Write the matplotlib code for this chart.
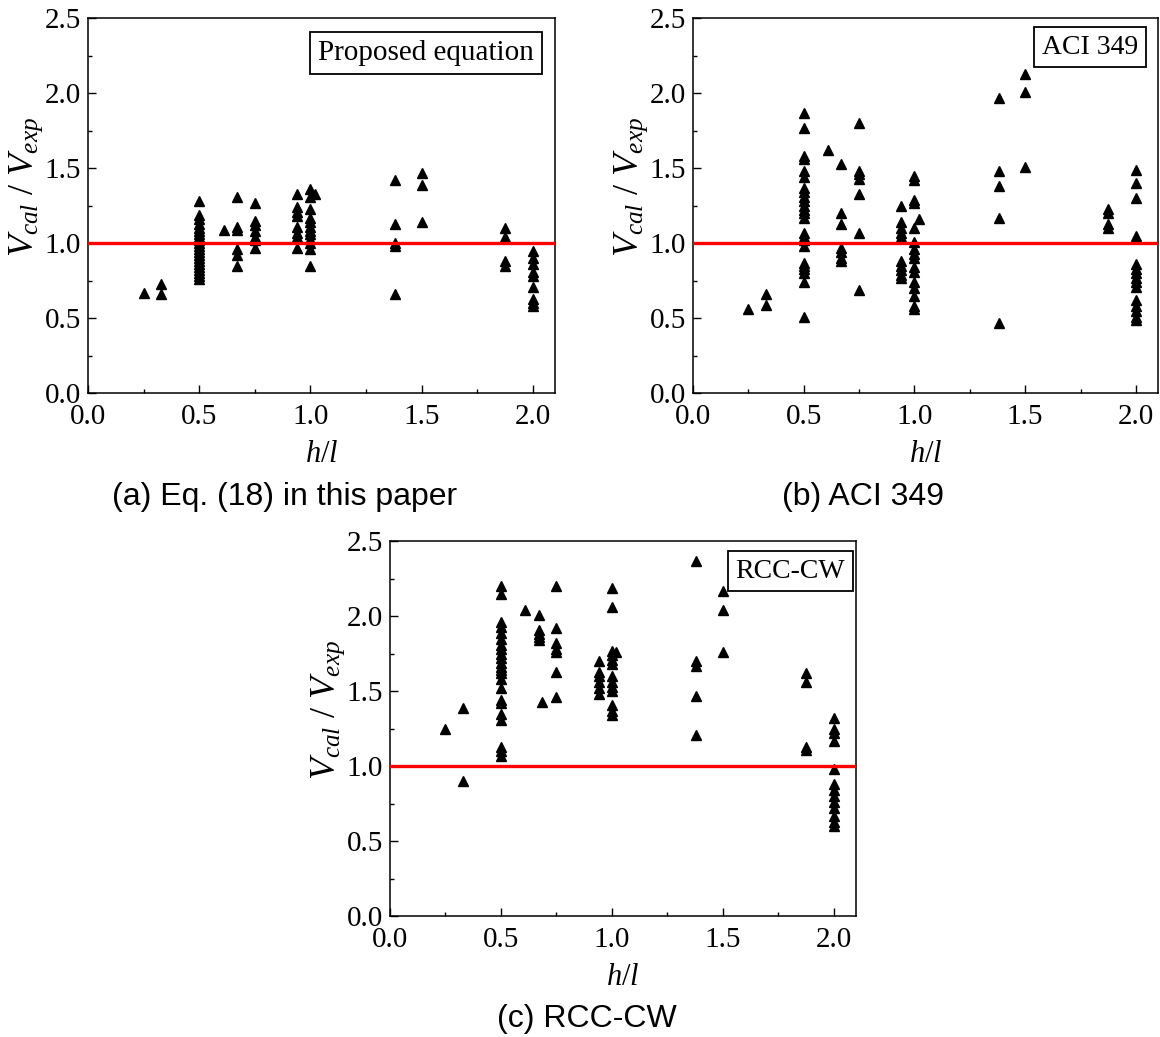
import matplotlib
matplotlib.use("Agg")
import matplotlib.pyplot as plt
from matplotlib.ticker import MultipleLocator

plt.rcParams['font.family'] = ['Liberation Serif', 'DejaVu Serif']
plt.rcParams['mathtext.fontset'] = 'custom'
plt.rcParams['mathtext.rm'] = 'Liberation Serif'
plt.rcParams['mathtext.it'] = 'Liberation Serif:italic'

# h/l -> V_cal / V_exp, grouped by h/l value
eq18 = {
    0.25: [0.67],
    0.33: [0.73, 0.66],
    0.5: [1.28, 1.19, 1.16, 1.13, 1.10, 1.08, 1.06, 1.04, 1.02, 1.00, 0.98, 0.96,
          0.94, 0.92, 0.90, 0.88, 0.86, 0.84, 0.82, 0.80, 0.78, 0.76],
    0.61: [1.09],
    0.67: [1.31, 1.11, 1.09, 0.96, 0.92, 0.85],
    0.75: [1.27, 1.15, 1.12, 1.08, 1.04, 1.02, 0.97],
    0.94: [1.33, 1.24, 1.21, 1.18, 1.11, 1.07, 1.04, 0.97],
    1.0: [1.36, 1.31, 1.23, 1.17, 1.14, 1.11, 1.08, 1.06, 1.03, 1.00, 0.96, 0.85],
    1.02: [1.33],
    1.38: [1.42, 1.13, 1.00, 0.98, 0.66],
    1.5: [1.47, 1.39, 1.14],
    1.875: [1.10, 1.04, 0.88, 0.85],
    2.0: [0.95, 0.90, 0.86, 0.81, 0.78, 0.71, 0.63, 0.60, 0.58],
}

aci349 = {
    0.25: [0.56],
    0.33: [0.66, 0.59],
    0.5: [1.87, 1.77, 1.58, 1.56, 1.48, 1.44, 1.37, 1.34, 1.31, 1.28, 1.25, 1.22,
          1.20, 1.17, 1.07, 1.04, 1.02, 0.98, 0.87, 0.85, 0.83, 0.80, 0.74, 0.51],
    0.61: [1.62],
    0.67: [1.53, 1.20, 1.13, 0.97, 0.94, 0.90, 0.88],
    0.75: [1.80, 1.48, 1.46, 1.43, 1.33, 1.07, 0.69],
    0.94: [1.25, 1.14, 1.10, 1.07, 1.04, 0.88, 0.85, 0.82, 0.79, 0.77],
    1.0: [1.45, 1.42, 1.29, 1.27, 1.10, 1.01, 0.96, 0.93, 0.90, 0.84, 0.81, 0.74,
          0.70, 0.65, 0.58, 0.56],
    1.02: [1.16],
    1.38: [1.97, 1.48, 1.38, 1.17, 0.47],
    1.5: [2.13, 2.01, 1.51],
    1.875: [1.23, 1.20, 1.13, 1.10],
    2.0: [1.49, 1.40, 1.30, 1.05, 0.86, 0.83, 0.80, 0.77, 0.74, 0.71, 0.62, 0.58,
          0.55, 0.51, 0.49],
}

rccw = {
    0.25: [1.25],
    0.33: [1.39, 0.90],
    0.5: [2.20, 2.15, 1.96, 1.93, 1.89, 1.85, 1.81, 1.78, 1.75, 1.72, 1.69, 1.66,
          1.64, 1.62, 1.58, 1.52, 1.44, 1.42, 1.35, 1.31, 1.13, 1.10, 1.07],
    0.61: [2.04],
    0.67: [2.01, 1.91, 1.88, 1.86, 1.84],
    0.685: [1.43],
    0.75: [2.20, 1.92, 1.82, 1.78, 1.76, 1.63, 1.46],
    0.94: [1.70, 1.63, 1.60, 1.56, 1.52, 1.48],
    1.0: [2.19, 2.06, 1.77, 1.74, 1.71, 1.68, 1.60, 1.56, 1.53, 1.50, 1.41, 1.37, 1.34],
    1.02: [1.76],
    1.38: [2.37, 1.70, 1.67, 1.47, 1.21],
    1.5: [2.17, 2.04, 1.76],
    1.875: [1.62, 1.56, 1.13, 1.11],
    2.0: [1.32, 1.25, 1.22, 1.17, 0.98, 0.88, 0.84, 0.80, 0.76, 0.72, 0.67, 0.63, 0.60],
}

W, H = 1160, 1037
fig = plt.figure(figsize=(W / 100, H / 100), dpi=100)


def px_axes(left, top, right, bottom):
    return fig.add_axes([left / W, 1 - bottom / H, (right - left) / W, (bottom - top) / H])


def draw(ax, groups, label, box_right, box_top, box_fs):
    for x, ys in groups.items():
        ax.plot([x] * len(ys), ys, linestyle='none', marker='^', ms=7,
                color='black', zorder=3)
    ax.axhline(1.0, color='#ff0000', lw=2.4, zorder=4)
    ax.set_xlim(0, 2.1)
    ax.set_ylim(0, 2.5)
    ax.xaxis.set_major_locator(MultipleLocator(0.5))
    ax.xaxis.set_minor_locator(MultipleLocator(0.25))
    ax.yaxis.set_major_locator(MultipleLocator(0.5))
    ax.yaxis.set_minor_locator(MultipleLocator(0.25))
    ax.xaxis.set_major_formatter(lambda v, p: f'{v:.1f}')
    ax.yaxis.set_major_formatter(lambda v, p: f'{v:.1f}')
    ax.tick_params(which='both', direction='in', top=False, right=False,
                   labelsize=21, width=1.0, colors='black')
    ax.tick_params(which='major', length=6)
    ax.tick_params(axis='x', which='major', pad=8)
    ax.tick_params(axis='y', which='major', pad=5)
    ax.tick_params(which='minor', length=3)
    for s in ax.spines.values():
        s.set_linewidth(1.1)
    ax.set_xlabel('$h/l$', fontsize=22)
    ax.xaxis.set_label_coords(0.5, -0.125)
    ax.set_ylabel('$V_{cal}$ / $V_{exp}$', fontsize=26)
    ax.yaxis.set_label_coords(-0.093, 0.55)
    pad_px = 0.25 * box_fs * 100 / 72
    bw, bh = ax.bbox.width, ax.bbox.height
    ax.text(1 - (box_right + pad_px) / bw, 1 - (box_top + pad_px) / bh, label,
            transform=ax.transAxes, ha='right', va='top', fontsize=box_fs, zorder=5,
            bbox=dict(boxstyle='square,pad=0.27', fc='none', ec='black', lw=1.3))


ax_a = px_axes(88, 18, 555, 393)
draw(ax_a, eq18, 'Proposed equation', 14, 15, 21)
ax_b = px_axes(693, 18, 1158, 393)
draw(ax_b, aci349, 'ACI 349', 13, 10, 20)
ax_c = px_axes(390, 541, 856, 916)
draw(ax_c, rccw, 'RCC-CW', 4, 11, 20)

cap = dict(fontsize=23, family=['Liberation Sans', 'DejaVu Sans'], ha='center', va='center')
fig.text(285 / W, 1 - 497 / H, '(a) Eq. (18) in this paper', **cap)
fig.text(863 / W, 1 - 497 / H, '(b) ACI 349', **cap)
fig.text(587 / W, 1 - 1019 / H, '(c) RCC-CW', **cap)

fig.savefig('out.png', dpi=100, facecolor='white')
